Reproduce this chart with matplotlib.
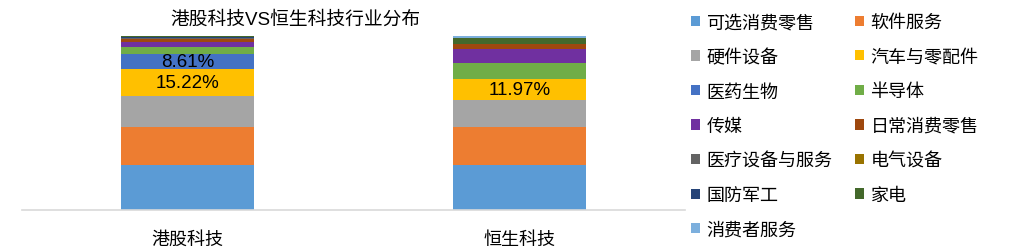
import numpy as np
import matplotlib.pyplot as plt
from matplotlib.patches import Patch

plt.rcParams['font.family'] = ['Liberation Sans', 'Noto Sans CJK SC', 'DejaVu Sans']

#--------------------------------------
categories = ['港股科技', '恒生科技']
sectors    = ['可选消费零售', '软件服务', '硬件设备', '汽车与零配件', '医药生物', '半导体',
              '传媒', '日常消费零售', '医疗设备与服务', '电气设备', '国防军工', '家电', '消费者服务']
colors     = ['#5B9BD5', '#ED7D31', '#A5A5A5', '#FFC000', '#4472C4', '#70AD47',
              '#7030A0', '#9E480E', '#636363', '#997300', '#264478', '#43682B', '#7CAFDD']

# share of each sector (%) for 港股科技 / 恒生科技
ggkj = [26.0, 21.8, 17.6, 15.22, 8.61, 4.4, 2.9, 1.3, 0.7, 0.2, 0.8, 0.2, 0.1]
hskj = [26.0, 21.8, 15.3, 11.97, 0.0, 9.2, 8.0, 2.9, 0.0, 0.0, 0.0, 3.4, 1.3]

# which segments carry a data label: (bar index, sector index)
labelled = [(0, 3), (0, 4), (1, 3)]
#--------------------------------------
data = np.array([ggkj, hskj])
x    = np.arange(len(categories))

fig = plt.figure(figsize=(10.19, 2.53), dpi=100)
ax  = fig.add_axes([22/1019, 42/253, 663/1019, 174.3/253])

bottom = np.zeros(len(categories))
for i, name in enumerate(sectors):
    ax.bar(x, data[:, i], 0.4, bottom=bottom, color=colors[i], label=name)
    for b, s in labelled:
        if s == i:
            ax.text(x[b], bottom[b] + data[b, i]/2, '{:.2f}%'.format(data[b, i]),
                    ha='center', va='center', fontsize=13.5, color='black')
    bottom += data[:, i]

ax.set_xlim(-0.5, 1.5)
ax.set_ylim(0, 100)
ax.set_yticks([])
ax.set_xticks(x)
ax.set_xticklabels(categories, fontsize=13)
ax.tick_params(axis='x', length=0, pad=15)
for sp in ['top', 'left', 'right']:
    ax.spines[sp].set_visible(False)
ax.spines['bottom'].set_color('#D9D9D9')
ax.spines['bottom'].set_linewidth(1.2)

fig.text(295/1019, 1 - 20/253, '港股科技VS恒生科技行业分布', ha='center', va='center', fontsize=13.5)

# legend row-major order, 2 columns
handles = [Patch(facecolor=c, edgecolor='none') for c in colors]
order = list(range(0, len(sectors), 2)) + list(range(1, len(sectors), 2))
fig.legend([handles[k] for k in order], [sectors[k] for k in order],
           ncol=2, loc='upper left', bbox_to_anchor=(684/1019, 1 - 8/253),
           frameon=False, fontsize=13, handlelength=0.5, handleheight=0.5,
           handletextpad=0.35, labelspacing=0.97, columnspacing=1.25, borderaxespad=0)

fig.savefig('out.png', dpi=100)
